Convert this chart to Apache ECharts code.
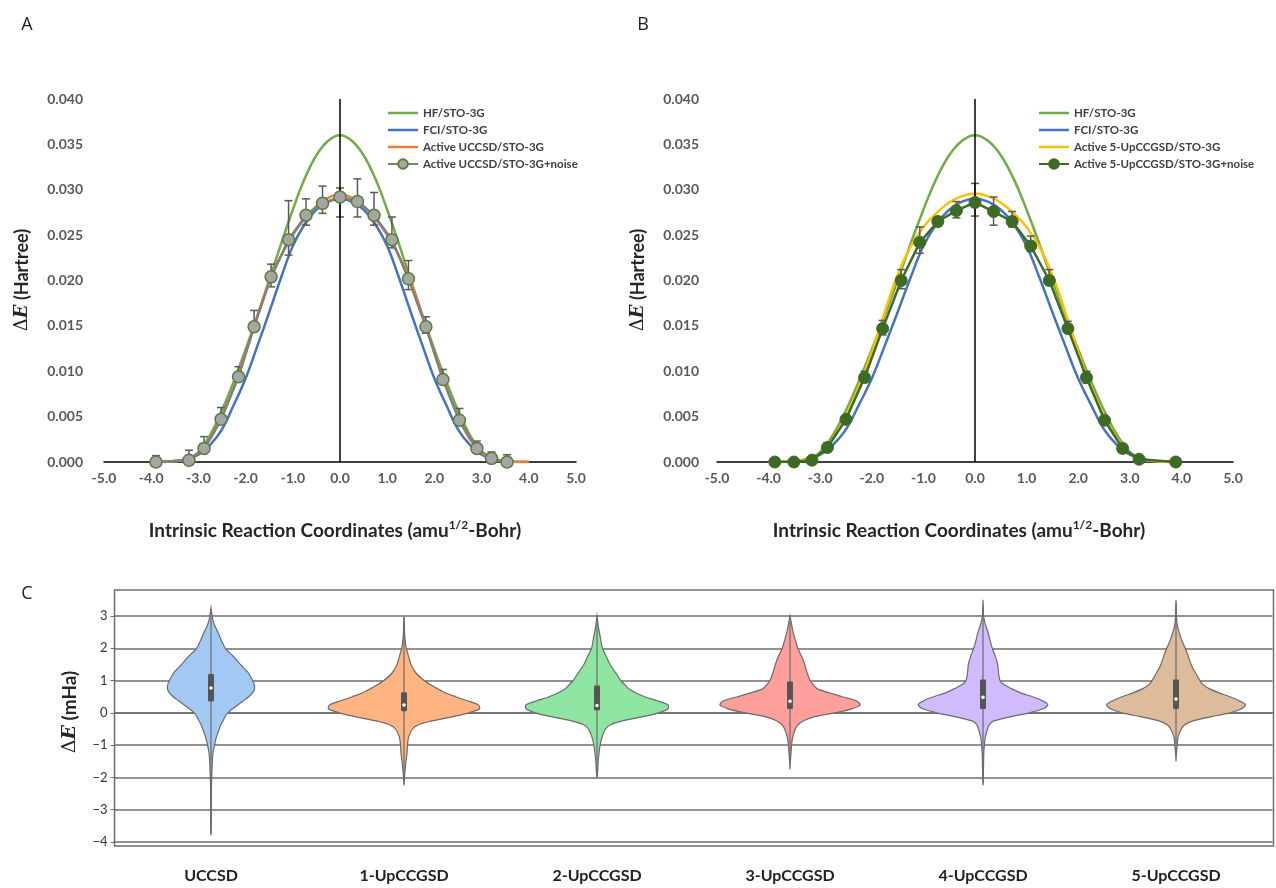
<!DOCTYPE html>
<html>
<head>
  <meta charset="utf-8">
  <title>IRC energy profiles and noise violins</title>
  <script src="https://cdn.jsdelivr.net/npm/echarts@6/dist/echarts.min.js"></script>
  <style>html,body{margin:0;padding:0;background:#fff;}</style>
</head>
<body>
  <div id="main" style="width:1276px;height:888px;"></div>
  <script type="text/javascript">
    // ---- panel A / B curves (x in amu^1/2-Bohr, y in Hartree) ----
    var curveX = [-4, -3.75, -3.5, -3.25, -3, -2.75, -2.5, -2.25, -2, -1.75, -1.5, -1.25, -1, -0.75, -0.5, -0.25, 0,
      0.25, 0.5, 0.75, 1, 1.25, 1.5, 1.75, 2, 2.25, 2.5, 2.75, 3, 3.25, 3.5, 3.75, 4];
    var hf = [0.0000, 0.0000, 0.0001, 0.0003, 0.0011, 0.0030, 0.0057, 0.0089, 0.0124, 0.0161, 0.0200, 0.0240, 0.0278, 0.0312, 0.0338, 0.0354, 0.0360,
      0.0354, 0.0338, 0.0312, 0.0278, 0.0240, 0.0200, 0.0161, 0.0124, 0.0089, 0.0057, 0.0030, 0.0011, 0.0003, 0.0001, 0.0000, 0.0000];
    var fci = [0.0000, 0.0000, 0.0001, 0.0003, 0.0008, 0.0019, 0.0036, 0.0063, 0.0092, 0.0128, 0.0165, 0.0203, 0.0238, 0.0262, 0.0278, 0.0287, 0.0290,
      0.0287, 0.0278, 0.0262, 0.0238, 0.0203, 0.0165, 0.0128, 0.0092, 0.0063, 0.0036, 0.0019, 0.0008, 0.0003, 0.0001, 0.0000, 0.0000];
    var uccsd = [0.0000, 0.0000, 0.0001, 0.0003, 0.0010, 0.0025, 0.0050, 0.0082, 0.0120, 0.0161, 0.0199, 0.0227, 0.0250, 0.0268, 0.0282, 0.0291, 0.0295,
      0.0291, 0.0282, 0.0268, 0.0250, 0.0227, 0.0199, 0.0161, 0.0120, 0.0082, 0.0050, 0.0025, 0.0010, 0.0003, 0.0001, 0.0000, 0.0000];
    var upccgsd5 = [0.0000, 0.0000, 0.0001, 0.0003, 0.0010, 0.0026, 0.0051, 0.0083, 0.0121, 0.0165, 0.0206, 0.0237, 0.0259, 0.0274, 0.0286, 0.0293, 0.0296,
      0.0293, 0.0286, 0.0274, 0.0259, 0.0237, 0.0206, 0.0165, 0.0121, 0.0083, 0.0051, 0.0026, 0.0010, 0.0003, 0.0001, 0.0000, 0.0000];

    // noisy points with error bars
    var noiseAX = [-3.90, -3.20, -2.88, -2.52, -2.15, -1.82, -1.46, -1.09, -0.72, -0.37, 0.00, 0.37, 0.72, 1.10, 1.45, 1.82, 2.18, 2.53, 2.90, 3.21, 3.54];
    var noiseAY = [0.0000, 0.0002, 0.0015, 0.0047, 0.0094, 0.0149, 0.0204, 0.0245, 0.0272, 0.0285, 0.0292, 0.0287, 0.0272, 0.0245, 0.0202, 0.0149, 0.0091, 0.0046, 0.0015, 0.0004, 0.0000];
    var noiseALo = [0.0000, 0.0000, 0.0011, 0.0043, 0.0090, 0.0144, 0.0193, 0.0228, 0.0261, 0.0274, 0.0270, 0.0270, 0.0261, 0.0236, 0.0190, 0.0142, 0.0087, 0.0043, 0.0010, 0.0000, 0.0000];
    var noiseAHi = [0.0007, 0.0013, 0.0028, 0.0060, 0.0105, 0.0167, 0.0218, 0.0288, 0.0290, 0.0304, 0.0302, 0.0312, 0.0297, 0.0270, 0.0222, 0.0160, 0.0102, 0.0059, 0.0023, 0.0011, 0.0008];

    var noiseBX = [-3.88, -3.51, -3.16, -2.86, -2.50, -2.14, -1.79, -1.43, -1.07, -0.72, -0.36, 0.00, 0.36, 0.72, 1.08, 1.44, 1.80, 2.16, 2.51, 2.86, 3.18, 3.89];
    var noiseBY = [0.0000, 0.0000, 0.0002, 0.0016, 0.0047, 0.0093, 0.0147, 0.0200, 0.0242, 0.0265, 0.0277, 0.0286, 0.0276, 0.0265, 0.0238, 0.0200, 0.0147, 0.0093, 0.0046, 0.0015, 0.0003, 0.0000];
    var noiseBLo = [0.0000, 0.0000, 0.0000, 0.0011, 0.0043, 0.0088, 0.0140, 0.0191, 0.0230, 0.0260, 0.0269, 0.0271, 0.0261, 0.0259, 0.0232, 0.0197, 0.0142, 0.0087, 0.0043, 0.0010, 0.0000, 0.0000];
    var noiseBHi = [0.0004, 0.0002, 0.0006, 0.0021, 0.0050, 0.0100, 0.0156, 0.0212, 0.0259, 0.0270, 0.0287, 0.0307, 0.0292, 0.0276, 0.0249, 0.0212, 0.0155, 0.0100, 0.0050, 0.0020, 0.0006, 0.0004];

    // ---- panel C violins (mHa) ----
    var violinNames = ['UCCSD', '1-UpCCGSD', '2-UpCCGSD', '3-UpCCGSD', '4-UpCCGSD', '5-UpCCGSD'];
    var violinLevels = [-4, -3.75, -3.5, -3.25, -3, -2.75, -2.5, -2.25, -2, -1.75, -1.5, -1.25, -1, -0.75, -0.5,
      -0.375, -0.25, -0.125, 0, 0.125, 0.25, 0.375, 0.5, 0.625, 0.75, 0.875, 1,
      1.25, 1.5, 1.75, 2, 2.25, 2.5, 2.75, 3, 3.25, 3.5];
    // relative density (widest violin ~ 100)
    var densUCCSD = [0, 0, 0.4, 0.4, 0.4, 0.4, 0.5, 0.6, 0.9, 1.3, 1.7, 2.5, 4.5, 7, 10.7,
      12.5, 15.6, 18, 22, 28, 35, 42, 49, 54, 56.5, 56, 54,
      48, 38, 29, 18.5, 13.5, 9, 4, 1.5, 0, 0];
    var dens1Up = [0, 0, 0, 0, 0, 0, 0, 0, 0.6, 1.5, 2.6, 3.9, 4.5, 6, 11,
      18, 36, 62, 84, 98, 96, 82, 67, 53, 43, 34, 26,
      15, 9, 6, 3, 1.5, 0.7, 0.4, 0, 0, 0];
    var dens2Up = [0, 0, 0, 0, 0, 0, 0, 0, 0, 1, 1.5, 2.6, 4, 6.5, 11,
      17, 33, 58, 80, 92, 92, 78, 62, 50, 41, 36, 31,
      24, 17, 12, 7, 5, 3, 1.3, 0, 0, 0];
    var dens3Up = [0, 0, 0, 0, 0, 0, 0, 0, 0, 0, 0.5, 1.3, 2, 3.5, 7,
      10, 17, 31, 58, 80, 91, 86, 68, 50, 35, 30, 26,
      22, 19, 15, 10, 7, 4, 2, 0, 0, 0];
    var dens4Up = [0, 0, 0, 0, 0, 0, 0, 0, 0.4, 0.6, 0.8, 1, 1.8, 3, 6,
      8, 14, 35, 60, 78, 84, 77, 64, 48, 37, 27, 22,
      20, 19, 16, 12, 9, 6.5, 3, 0.8, 0.3, 0];
    var dens5Up = [0, 0, 0, 0, 0, 0, 0, 0, 0, 0, 0, 0.5, 1.5, 2.5, 7,
      11, 22, 45, 70, 85, 90, 82, 70, 55, 43, 35, 31,
      25, 19.5, 16, 12, 7.5, 4, 1.5, 0.6, 0.3, 0];
    var violinDensity = [densUCCSD, dens1Up, dens2Up, dens3Up, dens4Up, dens5Up];
    var violinQ1 = [0.35, 0.05, 0.08, 0.12, 0.12, 0.12];
    var violinMedian = [0.77, 0.24, 0.23, 0.36, 0.48, 0.43];
    var violinQ3 = [1.20, 0.64, 0.85, 0.97, 1.03, 1.03];
    var violinMin = [-3.80, -2.20, -2.00, -1.55, -2.18, -1.29];
    var violinMax = [3.22, 2.96, 2.95, 2.95, 3.32, 3.42];

    var violinColors = ['#a1c9f4', '#ffb482', '#8de5a1', '#ff9f9b', '#d0bbff', '#debb9b'];
    var FONT = 'Lato, "Open Sans", sans-serif';
    var LINE_ICON = 'path://M0,0H30V2.5H0Z';

    function pairs(xs, ys) {
      return xs.map(function (x, i) { return [x, ys[i]]; });
    }
    function bars(xs, lo, hi) {
      return xs.map(function (x, i) { return [x, lo[i], hi[i]]; });
    }

    function renderErrorBar(params, api) {
      var top = api.coord([api.value(0), api.value(2)]);
      var bot = api.coord([api.value(0), api.value(1)]);
      var cap = 4;
      var st = { stroke: '#595959', lineWidth: 1.5 };
      return {
        type: 'group', children: [
          { type: 'line', shape: { x1: top[0], y1: top[1], x2: bot[0], y2: bot[1] }, style: st },
          { type: 'line', shape: { x1: top[0] - cap, y1: top[1], x2: top[0] + cap, y2: top[1] }, style: st },
          { type: 'line', shape: { x1: bot[0] - cap, y1: bot[1], x2: bot[0] + cap, y2: bot[1] }, style: st }
        ]
      };
    }

    function renderViolin(params, api) {
      var i = params.dataIndex;
      var dens = violinDensity[i];
      var cx = api.coord([i, 0])[0];
      var band = api.size([1, 0])[0];
      var k = 0.4 * band / 100;
      var first = 0, last = dens.length - 1;
      while (first < dens.length && dens[first] === 0) first++;
      while (last >= 0 && dens[last] === 0) last--;
      var lo = Math.max(first - 1, 0), hi = Math.min(last + 1, dens.length - 1);
      var right = [], left = [];
      for (var j = lo; j <= hi; j++) {
        var y = api.coord([i, violinLevels[j]])[1];
        right.push([cx + dens[j] * k, y]);
        left.unshift([cx - dens[j] * k, y]);
      }
      var yMin = api.coord([i, violinMin[i]])[1];
      var yMax = api.coord([i, violinMax[i]])[1];
      var yQ1 = api.coord([i, violinQ1[i]])[1];
      var yQ3 = api.coord([i, violinQ3[i]])[1];
      var yMed = api.coord([i, violinMedian[i]])[1];
      return {
        type: 'group', children: [
          { type: 'polygon', shape: { points: right.concat(left), smooth: 0.25 },
            style: { fill: violinColors[i], stroke: '#6b6b6b', lineWidth: 1.2 } },
          { type: 'line', shape: { x1: cx, y1: yMin, x2: cx, y2: yMax },
            style: { stroke: '#6b6b6b', lineWidth: 1.2 } },
          { type: 'rect', shape: { x: cx - 3, y: yQ3, width: 6, height: yQ1 - yQ3, r: 1 },
            style: { fill: '#555555' } },
          { type: 'circle', shape: { cx: cx, cy: yMed, r: 1.8 }, style: { fill: '#ffffff' } }
        ]
      };
    }

    function curve(name, ys, color, idx, extra) {
      var s = {
        name: name, type: 'line', xAxisIndex: idx, yAxisIndex: idx,
        data: pairs(curveX, ys), smooth: 0.4, symbol: 'none', showSymbol: false,
        lineStyle: { color: color, width: 2.5 }, itemStyle: { color: color }, z: 2
      };
      if (extra) Object.assign(s, extra);
      return s;
    }

    var zeroLine = {
      silent: true, symbol: 'none', label: { show: false },
      lineStyle: { color: '#000', width: 1.5, type: 'solid' },
      data: [{ xAxis: 0 }]
    };

    function xAxisIRC(idx) {
      return {
        type: 'value', gridIndex: idx, min: -5, max: 5, interval: 1,
        axisLine: { onZero: false, lineStyle: { color: '#000', width: 1.5 } },
        axisTick: { show: false }, splitLine: { show: false },
        axisLabel: { margin: 9, fontSize: 14, fontWeight: 'bold', color: '#595959', fontFamily: FONT,
          formatter: function (v) { return v.toFixed(1); } }
      };
    }
    function yAxisE(idx, margin) {
      return {
        type: 'value', gridIndex: idx, min: 0, max: 0.04, interval: 0.005,
        axisLine: { show: false }, axisTick: { show: false }, splitLine: { show: false },
        axisLabel: { margin: margin, fontSize: 14, fontWeight: 'bold', color: '#595959', fontFamily: FONT,
          formatter: function (v) { return v.toFixed(3); } }
      };
    }

    var legendText = { fontSize: 11.5, fontWeight: 'bold', color: '#404040', fontFamily: FONT };

    function richFor(size) {
      return {
        d: { fontFamily: '"DejaVu Serif", serif', fontSize: size, fill: '#262626' },
        e: { fontFamily: '"DejaVu Serif", serif', fontSize: size, fontStyle: 'italic', fontWeight: 'bold', fill: '#262626' },
        t: { fontFamily: FONT, fontSize: size, fontWeight: 'bold', fill: '#262626', lineHeight: size + 5 },
        s: { fontFamily: FONT, fontSize: Math.round(size * 0.62), fontWeight: 'bold', fill: '#262626', verticalAlign: 'top', lineHeight: 12 }
      };
    }
    var xTitle = '{t|Intrinsic Reaction Coordinates (amu}{s|1/2}{t|-Bohr)}';

    function label(text, x, y, size) {
      return { type: 'text', x: x, y: y, style: { text: text, fontSize: size, fontFamily: '"Open Sans", sans-serif',
        fill: '#222', align: 'center', verticalAlign: 'middle' } };
    }
    function rotTitle(text, x, y, size) {
      return { type: 'text', x: x, y: y, rotation: Math.PI / 2,
        style: { text: text, rich: richFor(size), align: 'center', verticalAlign: 'middle' } };
    }
    function flatTitle(text, x, y, size) {
      return { type: 'text', x: x, y: y,
        style: { text: text, rich: richFor(size), align: 'center', verticalAlign: 'middle' } };
    }

    var option = {
      animation: false,
      backgroundColor: '#fff',
      grid: [
        { left: 104, top: 99, width: 472, height: 363 },
        { left: 717, top: 99, width: 516, height: 363 },
        { left: 114.5, top: 616, width: 1158, height: 226 }
      ],
      legend: [
        { left: 382, top: 102, orient: 'vertical', itemWidth: 30, itemHeight: 12, itemGap: 5, selectedMode: false,
          textStyle: legendText,
          data: [
            { name: 'HF/STO-3G', icon: LINE_ICON },
            { name: 'FCI/STO-3G', icon: LINE_ICON },
            { name: 'Active UCCSD/STO-3G', icon: LINE_ICON },
            'Active UCCSD/STO-3G+noise'
          ] },
        { left: 1033, top: 102, orient: 'vertical', itemWidth: 30, itemHeight: 12, itemGap: 5, selectedMode: false,
          textStyle: legendText,
          data: [
            { name: 'HF/STO-3G', icon: LINE_ICON },
            { name: 'FCI/STO-3G', icon: LINE_ICON },
            { name: 'Active 5-UpCCGSD/STO-3G', icon: LINE_ICON },
            'Active 5-UpCCGSD/STO-3G+noise'
          ] }
      ],
      xAxis: [
        xAxisIRC(0),
        xAxisIRC(1),
        {
          type: 'category', gridIndex: 2, data: violinNames, offset: 4,
          axisLine: { lineStyle: { color: '#6e6e6e', width: 1.5 } },
          axisTick: { alignWithLabel: true, length: 6, lineStyle: { color: '#6e6e6e' } },
          axisLabel: { margin: 22, fontSize: 16, fontWeight: 'bold', color: '#222', fontFamily: FONT }
        }
      ],
      yAxis: [
        yAxisE(0, 21),
        yAxisE(1, 18),
        {
          type: 'value', gridIndex: 2, min: -4, max: 3, interval: 1,
          axisLine: { show: false },
          axisTick: { show: true, length: 4, lineStyle: { color: '#6e6e6e' } },
          splitLine: { lineStyle: { color: '#6e6e6e', width: 1.5 } },
          axisLabel: { margin: 7, fontSize: 13, color: '#333', fontFamily: FONT,
            formatter: function (v) { return String(v).replace('-', '\u2212'); } }
        }
      ],
      graphic: [
        label('A', 27, 25, 18),
        label('B', 643, 25, 18),
        label('C', 27, 594, 18),
        rotTitle('{d|\u0394}{e|E}{t| (Hartree)}', 22, 280, 18),
        rotTitle('{d|\u0394}{e|E}{t| (Hartree)}', 638, 280, 18),
        rotTitle('{d|\u0394}{e|E}{t| (mHa)}', 70, 712, 19),
        flatTitle(xTitle, 335, 531, 19),
        flatTitle(xTitle, 959, 531, 19),
        { type: 'rect', shape: { x: 114.5, y: 590, width: 1159, height: 256 },
          style: { fill: 'none', stroke: '#6e6e6e', lineWidth: 1.5 }, z: -1 }
      ],
      series: [
        // panel A
        curve('HF/STO-3G', hf, '#70ad47', 0, { markLine: zeroLine }),
        curve('FCI/STO-3G', fci, '#4472c4', 0),
        curve('Active UCCSD/STO-3G', uccsd, '#ed7d31', 0),
        {
          type: 'custom', name: 'errA', xAxisIndex: 0, yAxisIndex: 0, z: 4,
          data: bars(noiseAX, noiseALo, noiseAHi), encode: { x: 0, y: [1, 2] },
          renderItem: renderErrorBar
        },
        {
          name: 'Active UCCSD/STO-3G+noise', type: 'line', xAxisIndex: 0, yAxisIndex: 0, z: 5,
          data: pairs(noiseAX, noiseAY), symbol: 'circle', symbolSize: 12,
          lineStyle: { color: '#808080', width: 2.5 },
          itemStyle: { color: '#a5a5a5', borderColor: '#548235', borderWidth: 1.5 }
        },
        // panel B
        curve('HF/STO-3G', hf, '#70ad47', 1, { markLine: zeroLine }),
        curve('FCI/STO-3G', fci, '#4472c4', 1),
        curve('Active 5-UpCCGSD/STO-3G', upccgsd5, '#ffc000', 1),
        {
          type: 'custom', name: 'errB', xAxisIndex: 1, yAxisIndex: 1, z: 4,
          data: bars(noiseBX, noiseBLo, noiseBHi), encode: { x: 0, y: [1, 2] },
          renderItem: renderErrorBar
        },
        {
          name: 'Active 5-UpCCGSD/STO-3G+noise', type: 'line', xAxisIndex: 1, yAxisIndex: 1, z: 5,
          data: pairs(noiseBX, noiseBY), symbol: 'circle', symbolSize: 12,
          lineStyle: { color: '#3d6b25', width: 2.5 },
          itemStyle: { color: '#3d6b25', borderColor: '#3d6b25', borderWidth: 1 }
        },
        // panel C
        {
          type: 'custom', name: 'violins', xAxisIndex: 2, yAxisIndex: 2, clip: false,
          data: violinNames.map(function (n, i) { return [i, violinMedian[i]]; }),
          encode: { x: 0, y: 1 },
          renderItem: renderViolin
        }
      ]
    };

    var myChart = echarts.init(document.getElementById('main'));
    myChart.setOption(option);
  </script>
</body>
</html>
